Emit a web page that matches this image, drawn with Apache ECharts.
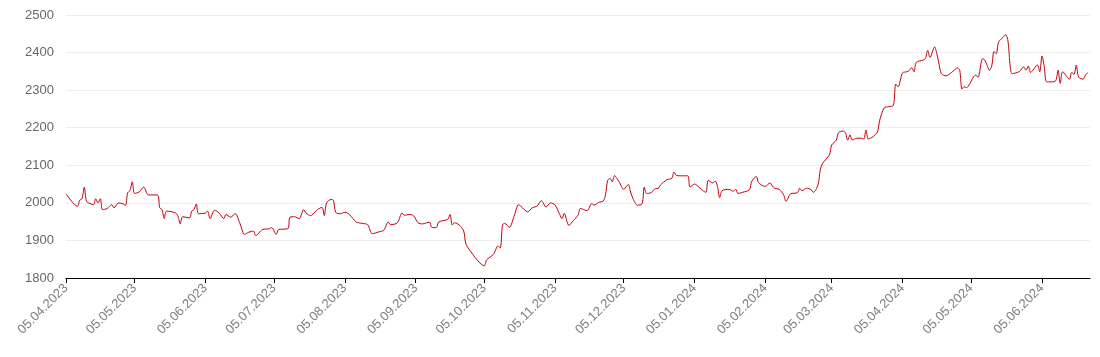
<!DOCTYPE html>
<html>
<head>
<meta charset="utf-8">
<script src="https://cdn.jsdelivr.net/npm/echarts@6/dist/echarts.min.js"></script>
<style>
html,body{margin:0;padding:0;background:#fff;}
#chart{width:1100px;height:357px;}
</style>
</head>
<body>
<div id="chart"></div>
<script>
var dates = [
'2023-04-05','2023-04-10','2023-04-11','2023-04-12','2023-04-13','2023-04-14','2023-04-16','2023-04-17','2023-04-18','2023-04-19',
'2023-04-20','2023-04-21','2023-04-23','2023-04-25','2023-04-26','2023-04-28','2023-04-30','2023-05-01','2023-05-02','2023-05-03',
'2023-05-04','2023-05-05','2023-05-07','2023-05-09','2023-05-11','2023-05-15','2023-05-16','2023-05-17','2023-05-18','2023-05-19',
'2023-05-23','2023-05-24','2023-05-25','2023-05-26','2023-05-29','2023-05-30','2023-05-31','2023-06-01','2023-06-02','2023-06-05',
'2023-06-06','2023-06-07','2023-06-09','2023-06-11','2023-06-13','2023-06-14','2023-06-16','2023-06-18','2023-06-20','2023-06-21',
'2023-06-22','2023-06-24','2023-06-26','2023-06-27','2023-06-30','2023-07-03','2023-07-04','2023-07-06','2023-07-07','2023-07-11',
'2023-07-12','2023-07-14','2023-07-16','2023-07-18','2023-07-19','2023-07-21','2023-07-23','2023-07-24','2023-07-26','2023-07-27',
'2023-07-28','2023-07-30','2023-07-31','2023-08-01','2023-08-03','2023-08-05','2023-08-07','2023-08-10','2023-08-13','2023-08-15',
'2023-08-17','2023-08-20','2023-08-22','2023-08-24','2023-08-25','2023-08-28','2023-08-30','2023-08-31','2023-09-02','2023-09-04',
'2023-09-06','2023-09-08','2023-09-11','2023-09-12','2023-09-14','2023-09-15','2023-09-19','2023-09-20','2023-09-21','2023-09-22',
'2023-09-24','2023-09-26','2023-09-27','2023-09-30','2023-10-02','2023-10-05','2023-10-06','2023-10-09','2023-10-11','2023-10-12',
'2023-10-13','2023-10-14','2023-10-16','2023-10-18','2023-10-20','2023-10-21','2023-10-24','2023-10-26','2023-10-28','2023-10-30',
'2023-11-01','2023-11-03','2023-11-05','2023-11-07','2023-11-08','2023-11-09','2023-11-11','2023-11-13','2023-11-15','2023-11-16',
'2023-11-18','2023-11-19','2023-11-21','2023-11-22','2023-11-24','2023-11-26','2023-11-27','2023-11-28','2023-11-29','2023-11-30',
'2023-12-01','2023-12-02','2023-12-03','2023-12-05','2023-12-07','2023-12-08','2023-12-09','2023-12-11','2023-12-13','2023-12-14',
'2023-12-15','2023-12-17','2023-12-19','2023-12-20','2023-12-21','2023-12-24','2023-12-26','2023-12-27','2023-12-28','2023-12-30',
'2024-01-02','2024-01-03','2024-01-05','2024-01-07','2024-01-09','2024-01-10','2024-01-11','2024-01-13','2024-01-14','2024-01-15',
'2024-01-16','2024-01-17','2024-01-20','2024-01-22','2024-01-23','2024-01-24','2024-01-26','2024-01-29','2024-01-30','2024-02-01',
'2024-02-02','2024-02-04','2024-02-05','2024-02-07','2024-02-08','2024-02-09','2024-02-11','2024-02-13','2024-02-14','2024-02-16',
'2024-02-19','2024-02-20','2024-02-21','2024-02-23','2024-02-25','2024-02-26','2024-02-28','2024-02-29','2024-03-01','2024-03-04',
'2024-03-05','2024-03-07','2024-03-08','2024-03-10','2024-03-11','2024-03-12','2024-03-13','2024-03-14','2024-03-16','2024-03-18',
'2024-03-19','2024-03-20','2024-03-21','2024-03-23','2024-03-25','2024-03-26','2024-03-28','2024-03-30','2024-04-01','2024-04-02',
'2024-04-03','2024-04-05','2024-04-07','2024-04-08','2024-04-09','2024-04-10','2024-04-11','2024-04-14','2024-04-15','2024-04-16',
'2024-04-17','2024-04-19','2024-04-20','2024-04-21','2024-04-22','2024-04-24','2024-04-27','2024-04-29','2024-04-30','2024-05-01',
'2024-05-02','2024-05-03','2024-05-06','2024-05-07','2024-05-08','2024-05-10','2024-05-11','2024-05-12','2024-05-13','2024-05-14',
'2024-05-15','2024-05-16','2024-05-17','2024-05-19','2024-05-20','2024-05-21','2024-05-23','2024-05-26','2024-05-28','2024-05-29',
'2024-05-30','2024-05-31','2024-06-01','2024-06-03','2024-06-04','2024-06-05','2024-06-06','2024-06-07','2024-06-09','2024-06-11',
'2024-06-12','2024-06-13','2024-06-14','2024-06-16','2024-06-17','2024-06-18','2024-06-19','2024-06-20','2024-06-21','2024-06-23',
'2024-06-24','2024-06-25'
];
var prices = [
2024,1991,2007,2011,2042,2004,1997,1995,2011,2000,
2011,1982,1985,1995,1987,2000,1997,1993,2027,2033,
2056,2025,2029,2042,2021,2021,1987,1982,1958,1978,
1973,1964,1944,1963,1960,1978,1982,1997,1971,1973,
1978,1958,1980,1973,1958,1969,1962,1971,1947,1929,
1916,1922,1925,1913,1929,1931,1934,1916,1929,1931,
1962,1963,1958,1982,1973,1966,1976,1982,1988,1966,
2000,2009,2007,1975,1971,1975,1969,1949,1945,1942,
1918,1923,1927,1949,1942,1947,1973,1967,1969,1966,
1947,1944,1949,1935,1934,1949,1956,1969,1941,1947,
1941,1925,1890,1863,1847,1832,1848,1863,1885,1880,
1942,1945,1935,1964,1995,1991,1976,1987,1991,2006,
1989,2000,1994,1969,1958,1972,1940,1953,1967,1985,
1981,1979,1998,1994,2001,2005,2020,2060,2065,2056,
2073,2065,2056,2036,2049,2029,2012,1994,1997,2042,
2025,2027,2038,2038,2047,2062,2065,2082,2073,2072,
2072,2042,2050,2041,2031,2028,2060,2053,2058,2044,
2014,2032,2036,2031,2036,2025,2028,2035,2057,2070,
2054,2045,2044,2053,2045,2039,2036,2021,2004,2024,
2027,2039,2032,2039,2035,2028,2048,2088,2105,2128,
2154,2167,2187,2191,2187,2167,2181,2167,2172,2172,
2170,2194,2170,2176,2189,2220,2253,2256,2260,2316,
2309,2346,2349,2353,2360,2349,2374,2380,2384,2406,
2387,2415,2397,2368,2344,2338,2350,2359,2353,2303,
2309,2307,2335,2340,2334,2384,2380,2366,2353,2364,
2403,2397,2428,2441,2448,2435,2344,2349,2362,2353,
2364,2347,2353,2367,2349,2391,2362,2322,2322,2325,
2353,2318,2349,2335,2329,2347,2342,2367,2335,2329,
2340,2347
];
var xTickDates = [
'2023-04-05','2023-05-05','2023-06-05','2023-07-05','2023-08-05','2023-09-05','2023-10-05','2023-11-05',
'2023-12-05','2024-01-05','2024-02-05','2024-03-05','2024-04-05','2024-05-05','2024-06-05'
];
var yTicks = [1800, 1900, 2000, 2100, 2200, 2300, 2400, 2500];

function parseD(s) {
  var p = s.split('-');
  return Date.UTC(+p[0], +p[1] - 1, +p[2]);
}
function fmt(v) {
  var d = new Date(v);
  var dd = ('0' + d.getUTCDate()).slice(-2);
  var mm = ('0' + (d.getUTCMonth() + 1)).slice(-2);
  return dd + '.' + mm + '.' + d.getUTCFullYear();
}
var seriesData = dates.map(function (d, i) { return [parseD(d), prices[i]]; });
var tickVals = xTickDates.map(parseD);

var chart = echarts.init(document.getElementById('chart'), null, {renderer: 'canvas'});
chart.setOption({
  animation: false,
  backgroundColor: '#ffffff',
  grid: {left: 66, right: 10, top: 15, bottom: 79, containLabel: false},
  xAxis: {
    type: 'value',
    min: parseD('2023-04-05'),
    max: parseD('2024-06-26'),
    axisLine: {show: true, lineStyle: {color: '#000', width: 1}},
    axisTick: {show: true, length: 5, customValues: tickVals, lineStyle: {color: '#000'}},
    axisLabel: {
      customValues: tickVals,
      rotate: 45,
      margin: 8,
      color: '#808080',
      fontSize: 13,
      fontFamily: 'Liberation Sans, Arial, sans-serif',
      formatter: function (v) { return fmt(v); }
    },
    splitLine: {show: false}
  },
  yAxis: {
    type: 'value',
    min: yTicks[0],
    max: yTicks[yTicks.length - 1],
    interval: 100,
    axisLine: {show: false},
    axisTick: {show: false},
    axisLabel: {
      color: '#666',
      fontSize: 13,
      margin: 12,
      fontFamily: 'Liberation Sans, Arial, sans-serif',
      formatter: function (v) { return String(v); }
    },
    splitLine: {show: true, lineStyle: {color: '#eeeeee', width: 1}}
  },
  series: [{
    type: 'line',
    data: seriesData,
    showSymbol: false,
    smooth: 0.3,
    lineStyle: {color: '#c4000f', width: 1},
    itemStyle: {color: '#c4000f'}
  }]
});
</script>
</body>
</html>
